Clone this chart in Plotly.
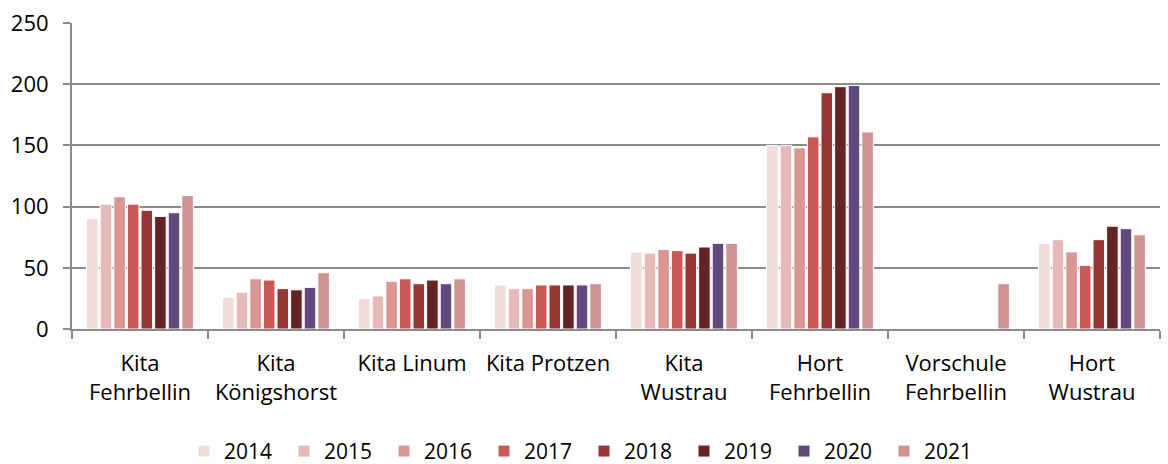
import plotly.graph_objects as go

categories = ["Kita<br>Fehrbellin", "Kita<br>Königshorst", "Kita Linum", "Kita Protzen",
              "Kita<br>Wustrau", "Hort<br>Fehrbellin", "Vorschule<br>Fehrbellin", "Hort<br>Wustrau"]
years = ["2014", "2015", "2016", "2017", "2018", "2019", "2020", "2021"]
v2014 = [90, 26, 25, 36, 63, 150, None, 70]
v2015 = [102, 30, 27, 33, 62, 150, None, 73]
v2016 = [108, 41, 39, 33, 65, 148, None, 63]
v2017 = [102, 40, 41, 36, 64, 157, None, 52]
v2018 = [97, 33, 37, 36, 62, 193, None, 73]
v2019 = [92, 32, 40, 36, 67, 198, None, 84]
v2020 = [95, 34, 37, 36, 70, 199, None, 82]
v2021 = [109, 46, 41, 37, 70, 161, 37, 77]
series = [v2014, v2015, v2016, v2017, v2018, v2019, v2020, v2021]
colors = ["#F2DCDB", "#E6B9B8", "#D99694", "#C55A57", "#953735", "#632523", "#604A7B", "#D09392"]

fig = go.Figure()
for y, vals, c in zip(years, series, colors):
    fig.add_trace(go.Bar(name=y, x=categories, y=vals, marker_color=c,
                         marker_line_color="white", marker_line_width=1))

font = dict(family="Open Sans, Noto Sans, sans-serif", size=22, color="#000000")
fig.update_layout(
    width=1168, height=464,
    margin=dict(l=72, r=8, t=23, b=135, autoexpand=False),
    plot_bgcolor="white", paper_bgcolor="white",
    barmode="group", bargap=0.2, bargroupgap=0.15,
    font=font,
    legend=dict(orientation="h", xref="container", x=0.5, xanchor="center",
                yref="paper", y=-0.40, yanchor="middle",
                font=dict(size=21), itemwidth=30, traceorder="normal",
                entrywidth=55, entrywidthmode="pixels"),
    showlegend=True,
)
fig.update_xaxes(showline=True, linecolor="#8c8c8c", linewidth=2, ticks="outside",
                 tickson="boundaries", ticklen=8, tickcolor="#8c8c8c", tickwidth=2,
                 tickfont=dict(size=22), automargin=False, ticklabelstandoff=14)
fig.update_yaxes(range=[0, 250], dtick=50, showgrid=True, gridcolor="#8c8c8c", gridwidth=2,
                 showline=True, linecolor="#8c8c8c", linewidth=2, ticks="outside",
                 ticklen=7, tickcolor="#8c8c8c", tickwidth=2, zeroline=False,
                 tickfont=dict(size=22), automargin=False, ticklabelstandoff=10)
fig.write_html("out.html", config={"displayModeBar": False},
               post_script="document.body.style.margin='0';document.body.style.padding='0';")
